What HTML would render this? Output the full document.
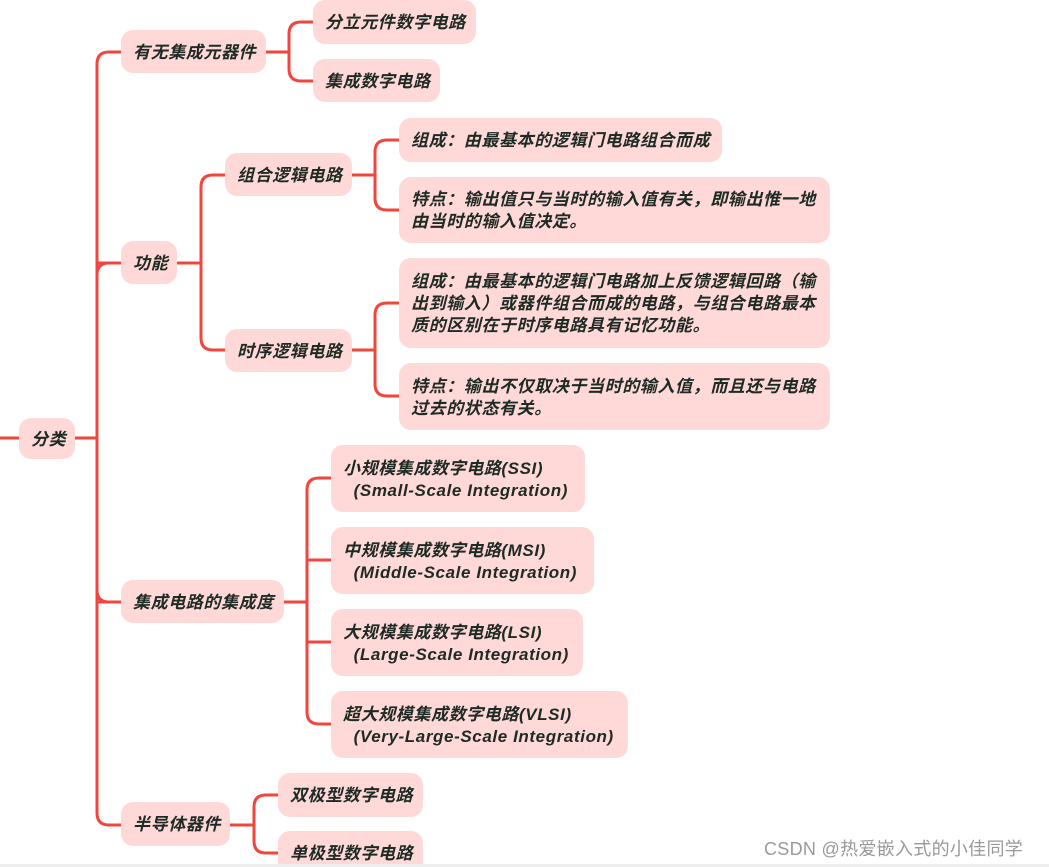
<!DOCTYPE html>
<html><head><meta charset="utf-8"><style>
html,body{margin:0;padding:0;background:#fff;width:1049px;height:867px;overflow:hidden;position:relative}
.n{position:absolute;background:#ffd9d7;border-radius:12px;box-sizing:border-box;font-family:"Liberation Sans","Noto Sans CJK SC",sans-serif;font-weight:bold;font-style:italic;font-size:17px;color:#1e2a24;line-height:22px;white-space:nowrap;padding:2px 12px 0;display:flex;flex-direction:column;justify-content:center;letter-spacing:0.6px}
svg{position:absolute;left:0;top:0}
.wm{position:absolute;left:764px;top:835px;font-family:"Liberation Sans","Noto Sans CJK SC",sans-serif;font-size:18px;color:#999;white-space:nowrap;letter-spacing:0.3px}
</style></head><body>
<svg width="1049" height="867" fill="none" stroke="#f2453d" stroke-width="3">
<path d="M0 438H97"/>
<path d="M121 52H109Q97 52 97 64V813Q97 825 109 825H121"/>
<path d="M97 263H121M97 602H121"/>
<path d="M97 275Q97 263 109 263M97 590Q97 602 109 602"/>
<path d="M266 52H289M313 22H301Q289 22 289 34V69Q289 81 301 81H313"/>
<path d="M177 263H201M225 175H213Q201 175 201 187V338Q201 350 213 350H225"/>
<path d="M352 175H375M399 140H387Q375 140 375 152V198Q375 210 387 210H399"/>
<path d="M352 350H375M399 303H387Q375 303 375 315V384Q375 396 387 396H399"/>
<path d="M284 602H307M331 478H319Q307 478 307 490V712Q307 724 319 724H331M307 560H331M307 642H331"/>
<path d="M230 825H254M278 795H266Q254 795 254 807V841Q254 853 266 853H278"/>
</svg>
<div class="n" style="left:19px;top:418px;width:56px;height:41px">分类</div>
<div class="n" style="left:121px;top:30px;width:145px;height:43px">有无集成元器件</div>
<div class="n" style="left:313px;top:0px;width:163px;height:44px">分立元件数字电路</div>
<div class="n" style="left:313px;top:59px;width:127px;height:43px">集成数字电路</div>
<div class="n" style="left:121px;top:241px;width:56px;height:43px">功能</div>
<div class="n" style="left:225px;top:153px;width:127px;height:43px">组合逻辑电路</div>
<div class="n" style="left:399px;top:118px;width:323px;height:44px">组成：由最基本的逻辑门电路组合而成</div>
<div class="n" style="left:399px;top:177px;width:431px;height:66px">特点：输出值只与当时的输入值有关，即输出惟一地<br>由当时的输入值决定。</div>
<div class="n" style="left:225px;top:329px;width:127px;height:43px">时序逻辑电路</div>
<div class="n" style="left:399px;top:258px;width:431px;height:90px">组成：由最基本的逻辑门电路加上反馈逻辑回路（输<br>出到输入）或器件组合而成的电路，与组合电路最本<br>质的区别在于时序电路具有记忆功能。</div>
<div class="n" style="left:399px;top:363px;width:431px;height:67px">特点：输出不仅取决于当时的输入值，而且还与电路<br>过去的状态有关。</div>
<div class="n" style="left:121px;top:580px;width:163px;height:43px">集成电路的集成度</div>
<div class="n" style="left:331px;top:445px;width:254px;height:67px">小规模集成数字电路(SSI)<br>&nbsp;&nbsp;(Small-Scale Integration)</div>
<div class="n" style="left:331px;top:527px;width:263px;height:67px">中规模集成数字电路(MSI)<br>&nbsp;&nbsp;(Middle-Scale Integration)</div>
<div class="n" style="left:331px;top:609px;width:252px;height:67px">大规模集成数字电路(LSI)<br>&nbsp;&nbsp;(Large-Scale Integration)</div>
<div class="n" style="left:331px;top:691px;width:297px;height:67px">超大规模集成数字电路(VLSI)<br>&nbsp;&nbsp;(Very-Large-Scale Integration)</div>
<div class="n" style="left:121px;top:802px;width:109px;height:44px">半导体器件</div>
<div class="n" style="left:278px;top:773px;width:145px;height:44px">双极型数字电路</div>
<div class="n" style="left:278px;top:831px;width:145px;height:44px">单极型数字电路</div>
<div class="wm">CSDN @热爱嵌入式的小佳同学</div>
<div style="position:absolute;left:0;top:864px;width:1049px;height:3px;background:#eee"></div>
</body></html>
